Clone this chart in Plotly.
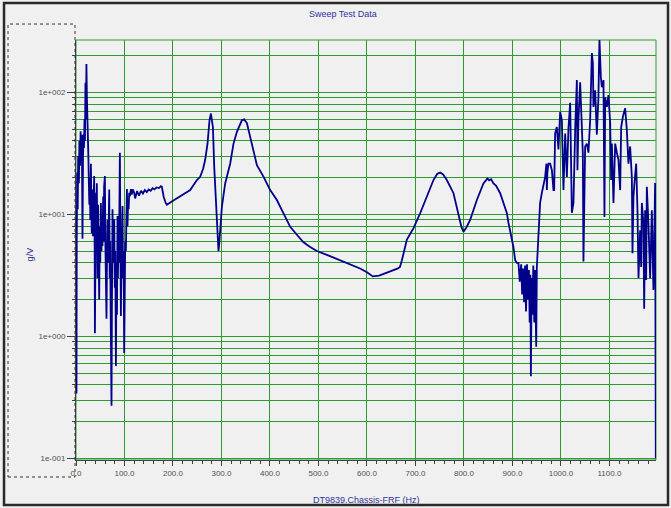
import plotly.graph_objects as go

# ---- data ----
freq_hz = [
    0.5, 1.0, 1.5, 2.5, 3.5, 4.5, 6, 7, 8.5, 9.5, 10.5, 12, 13.4, 14.5, 15.5, 16.5, 17.5, 18.5, 19.5, 20.5,
    21.5, 22.5, 23.5, 24.5, 25.5, 26.5, 27.5, 28.5, 29.5, 30.7, 31.5, 32.5, 34, 35, 36, 37.5, 38.5, 39, 40, 41,
    42, 43, 44.3, 45.5, 46.5, 47.8, 49, 50, 51.3, 52.5, 53.5, 54.6, 56, 57, 58, 59.6, 60.5, 61.5, 62.9, 64,
    65, 66, 67, 68.5, 69.5, 70.5, 71.5, 72.5, 73.2, 74, 75.3, 76.5, 77.5, 78.8, 80, 81, 82.3, 83.5, 84.5, 85.6,
    86.5, 87.5, 88.5, 89.5, 90.5, 91.5, 92.6, 93.5, 94.5, 95.9, 97, 98, 99.4, 100.5, 101.5, 102.9, 104, 105, 106.2, 107.5,
    108.5, 109.7, 111, 113.2, 115, 117, 120,
    122, 126, 130, 134, 138, 142, 146, 150, 154, 158, 162, 166, 171, 175, 177, 181, 185, 187.4, 200, 214.8,
    235.5, 249.3, 256, 262, 266.4, 271.2, 275.3, 278.2, 282.3, 285, 289.1, 291.8, 293.8, 295.5, 297.3, 300.8, 307.6, 318, 324.8, 331.8,
    342, 346.8, 352.4, 359.2, 366, 373, 386.6, 400.4, 414.2, 427.9, 441.7, 455.5, 469.1, 482.9,
    496.7, 520, 544.8, 565, 585.8, 600, 612, 625, 640, 655, 664, 668, 672, 682.3, 696, 709.7, 723.5, 737.1, 745, 751,
    757, 764.7, 778.4, 788.7, 795, 799, 805, 812.8, 826.6, 840.2, 848.5, 852, 856, 860.9, 866, 874.7, 881.2, 888.5, 891.8, 898.8,
    902, 905.6, 909,
    912.4, 915, 918, 920, 922, 924, 926, 928, 930, 932, 934, 935.5, 937, 938, 939.5, 941, 943, 945, 946.5, 948,
    949, 950.3, 953.6, 957, 960.6, 964, 967.4, 970, 970.9, 972, 974.2, 977.7, 981.3, 984.6, 986, 988, 991.5, 994.8, 998.4, 1001.9,
    1005.2, 1008.7, 1012.2, 1015.5, 1019, 1022.5, 1025.8, 1029.3, 1032.8, 1034, 1036.1, 1039.6, 1043.1, 1045.1, 1046.4, 1049.9, 1053.4, 1056.7, 1060.2, 1063.7,
    1065.8, 1067, 1070.5, 1074, 1077.3, 1079.4, 1082.3, 1084.4, 1087.7, 1089.7, 1091.2, 1094.7, 1098, 1101.5, 1103.5, 1105, 1108.3, 1111.8, 1115.3, 1118.6,
    1122.1, 1124.2, 1127.7, 1132.4, 1135.9, 1139.2, 1142.7, 1146.2, 1147.5, 1149.5, 1151.6, 1155.1, 1157.8, 1159.9, 1163.3, 1165.4, 1166.8, 1170.1, 1171.6, 1173.6,
    1175.7, 1177.1, 1180.4, 1183.9, 1187.4, 1190.7, 1194.2, 1195.6,
]

mag_g_per_v = [
    8.0, 0.34, 6.0, 22, 11, 30, 18, 40, 25, 48, 28, 45, 6.3, 30, 45, 35, 60, 40, 120, 60,
    171, 90, 45, 60, 30, 18, 12, 20, 9, 26, 14, 7, 16, 6.6, 12, 20.6, 5, 1.06, 4, 15,
    8, 18, 3.0, 12, 5, 2.0, 8, 4, 12.4, 5, 9, 5.5, 14, 6, 17, 20.6, 6, 3, 1.39, 5,
    9, 4, 11, 16, 3, 6, 1.5, 0.6, 0.27, 1.5, 11, 4, 7, 9.1, 2.5, 5, 0.57, 4, 1.5, 9.7,
    3, 8, 4, 15, 32, 6, 1.47, 3.5, 7, 11.7, 3, 5, 0.73, 2, 6, 5, 14, 16.1, 8.0, 13,
    11, 15.0, 14, 16.1, 14.5, 16, 15,
    13.5, 15.5, 14.2, 15.6, 14.8, 15.8, 15.2, 16.0, 15.6, 16.4, 16.0, 16.6, 16.4, 17.0, 16.8, 13.8, 12.4, 12.0, 12.9, 14.0,
    15.8, 19.1, 20.3, 23.5, 28, 38, 59, 67, 52, 24.6, 10.8, 6.2, 5.0, 5.8, 7.9, 11.5, 17.9, 26.1, 38, 47.5,
    59, 60, 56, 43.3, 31.5, 25.3, 20.4, 15.8, 13.1, 10.2, 7.9, 6.8, 5.9, 5.4,
    5.0, 4.6, 4.2, 3.9, 3.6, 3.35, 3.1, 3.15, 3.3, 3.45, 3.6, 3.7, 4.2, 6.2, 7.7, 10.2, 14.0, 19.1, 21.5, 22,
    21.2, 19.1, 14.9, 10.2, 7.8, 7.2, 7.8, 9.0, 13.1, 17.9, 19.7, 19.0, 19.4, 17.9, 17.2, 14.9, 12.3, 10.2, 8.5, 6.2,
    5.4, 4.2, 4.0,
    4.0, 2.8, 3.9, 2.2, 3.6, 1.9, 3.8, 1.6, 3.9, 2.0, 3.5, 1.3, 3.2, 0.47, 3.0, 1.5, 3.8, 1.3, 3.5, 2.0,
    0.82, 3.7, 6.5, 12.4, 15, 18.1, 20.2, 26, 15.8, 22, 26, 26, 23, 15.8, 15.8, 46, 52, 34, 69, 59,
    15.8, 46, 20.2, 51, 82, 10.3, 12.4, 49, 126, 23, 59, 121, 62, 32, 4.1, 36, 38, 32, 59, 210,
    174, 76, 104, 45, 91, 275, 133, 110, 126, 9.5, 91, 76, 95, 56, 19.1, 38, 12.4, 38, 32, 28,
    15.8, 52, 63, 74, 49, 26, 36, 20.2, 4.8, 13.9, 18.1, 26, 10.8, 3.0, 7.4, 3.7, 12.4, 8.5, 1.68, 10.8,
    2.9, 16.8, 8.5, 3.0, 10.8, 2.4, 18.1, 0.1,
]

x_tick_vals = [0, 100, 200, 300, 400, 500, 600, 700, 800, 900, 1000, 1100]
x_tick_text = ["0.0", "100.0", "200.0", "300.0", "400.0", "500.0", "600.0",
               "700.0", "800.0", "900.0", "1000.0", "1100.0"]
y_tick_vals = [0.1, 1, 10, 100]
y_tick_text = ["1e-001", "1e+000", "1e+001", "1e+002"]
y_minor_vals = [0.2, 0.3, 0.4, 0.5, 0.6, 0.7, 0.8, 0.9,
                2, 3, 4, 5, 6, 7, 8, 9,
                20, 30, 40, 50, 60, 70, 80, 90, 200]

GRID = "#2E9B2E"
AXIS = "#404040"
TXT = "#505050"
BLUE = "#3333A0"
FONT = "Liberation Sans"

fig = go.Figure()
fig.add_trace(go.Scatter(
    x=freq_hz, y=mag_g_per_v, mode="lines",
    line=dict(color="#00008B", width=1.8),
    showlegend=False, hoverinfo="x+y",
))

fig.update_layout(
    width=671, height=508,
    margin=dict(l=76, r=15, t=40, b=48),
    paper_bgcolor="#F0F0F0", plot_bgcolor="#F0F0F0",
    font=dict(family=FONT, size=8, color=TXT),
    showlegend=False,
    xaxis=dict(
        range=[0, 1196], tickmode="array", tickvals=x_tick_vals, ticktext=x_tick_text,
        ticks="outside", ticklen=5, tickcolor=AXIS, showline=True, linecolor=AXIS, linewidth=1,
        showgrid=True, gridcolor=GRID, gridwidth=1, zeroline=False,
        tickfont=dict(family=FONT, size=8, color=TXT),
        minor=dict(ticks="outside", ticklen=3, tickcolor=AXIS, dtick=20, tick0=0, showgrid=False),
    ),
    yaxis=dict(
        type="log", range=[-1.014, 2.429], tickmode="array", tickvals=y_tick_vals, ticktext=y_tick_text,
        ticks="outside", ticklen=8, tickcolor=AXIS, showline=True, linecolor=AXIS, linewidth=1,
        showgrid=True, gridcolor=GRID, gridwidth=1, zeroline=False,
        tickfont=dict(family=FONT, size=8, color=TXT),
        minor=dict(ticks="outside", ticklen=3, tickcolor=AXIS, tickmode="array",
                   tickvals=y_minor_vals, showgrid=True, gridcolor=GRID, gridwidth=1),
    ),
    annotations=[
        dict(text="Sweep Test Data", xref="paper", yref="paper", x=0.46, y=1.062,
             xanchor="center", yanchor="middle", showarrow=False,
             font=dict(family=FONT, size=9, color=BLUE)),
        dict(text="DT9839.Chassis-FRF (Hz)", xref="paper", yref="paper", x=0.5, y=-0.095,
             xanchor="center", yanchor="middle", showarrow=False,
             font=dict(family=FONT, size=9, color=BLUE)),
        dict(text="g/V", xref="paper", yref="paper", x=-0.079, y=0.49, textangle=-90,
             xanchor="center", yanchor="middle", showarrow=False,
             font=dict(family=FONT, size=9, color=BLUE)),
    ],
    shapes=[
        dict(type="rect", xref="paper", yref="paper", x0=0, y0=0, x1=1, y1=1,
             line=dict(color=GRID, width=1), layer="below"),
        dict(type="rect", xref="paper", yref="paper", x0=-0.1172, x1=-0.0017, y0=-0.0405, y1=1.038,
             line=dict(color="#333333", width=1, dash="dot")),
        dict(type="rect", xref="paper", yref="paper", x0=-0.1241, x1=1.0207, y0=-0.1071, y1=1.0881,
             line=dict(color="#2A2A2A", width=2.5)),
    ],
)

fig.write_html(
    "out.html",
    config={"displayModeBar": False},
    post_script="document.body.style.margin='0';document.body.style.padding='0';"
                "document.body.style.background='#F0F0F0';"
                "document.documentElement.style.overflow='hidden';",
)
